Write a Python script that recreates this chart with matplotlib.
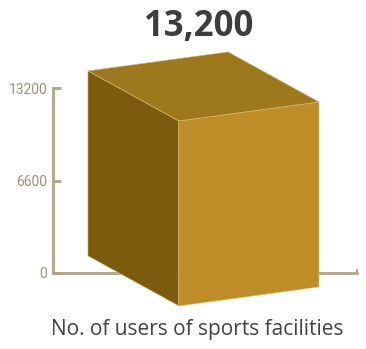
import matplotlib.pyplot as plt
from matplotlib import font_manager
from matplotlib.patches import Polygon

# Chart data
label = 'No. of users of sports facilities'
value = 13200
y_ticks = [0, 6600, 13200]

axis_col = '#b3a488'
tick_col = '#a3927a'
front_col = '#bf8d28'
top_col = '#9e781c'
side_col = '#7b5b0e'

# narrow face for the axis numbers, if there is one
try:
    font_manager.findfont('Liberation Sans Narrow', fallback_to_default=False)
    tick_font, tick_size = 'Liberation Sans Narrow', 12
except ValueError:
    tick_font, tick_size = 'Roboto', 10

fig = plt.figure(figsize=(3.66, 3.49), dpi=100)
ax = fig.add_axes([53 / 366, 76 / 349, 304 / 366, 185 / 349])
ax.set_xlim(0, 1)
ax.set_ylim(0, value)

for s in ['top', 'right']:
    ax.spines[s].set_visible(False)
for s in ['left', 'bottom']:
    ax.spines[s].set_color(axis_col)
    ax.spines[s].set_linewidth(2)

ax.set_yticks(y_ticks)
ax.set_yticklabels([str(t) for t in y_ticks], family=tick_font)
ax.tick_params(axis='y', direction='in', length=6, width=2, color=axis_col,
               labelcolor=tick_col, labelsize=tick_size, pad=4)
ax.set_xticks([1.0])
ax.set_xticklabels([])
ax.tick_params(axis='x', direction='in', length=3, width=1.5, color=axis_col)

# cube: front face, left face, top face
x0 = 0.414      # front-left edge
base = -2350    # bottom of front-left edge
w, rise = 0.461, 1356     # front face width and its upward slant
dx, dy = -0.299, 3570     # depth offset towards the back-left
top = base + value

front = [(x0, base), (x0 + w, base + rise), (x0 + w, top + rise), (x0, top)]
side = [(x0 + dx, base + dy), (x0, base), (x0, top), (x0 + dx, top + dy)]
lid = [(x0, top), (x0 + w, top + rise), (x0 + w + dx, top + rise + dy), (x0 + dx, top + dy)]
for pts, col in [(side, side_col), (front, front_col), (lid, top_col)]:
    ax.add_patch(Polygon(pts, closed=True, facecolor=col, edgecolor='#d8bf7a',
                         linewidth=0.4, clip_on=False, zorder=3))

fig.text(199 / 366, 1 - 27 / 349, f'{value:,}', ha='center', va='center',
         fontsize=25, fontweight='bold', color='#3d3d3d', family='Open Sans')
fig.text(197 / 366, 1 - 330 / 349, label, ha='center', va='center',
         fontsize=15, color='#444444', family='Open Sans')

fig.savefig('out.png', dpi=100)
